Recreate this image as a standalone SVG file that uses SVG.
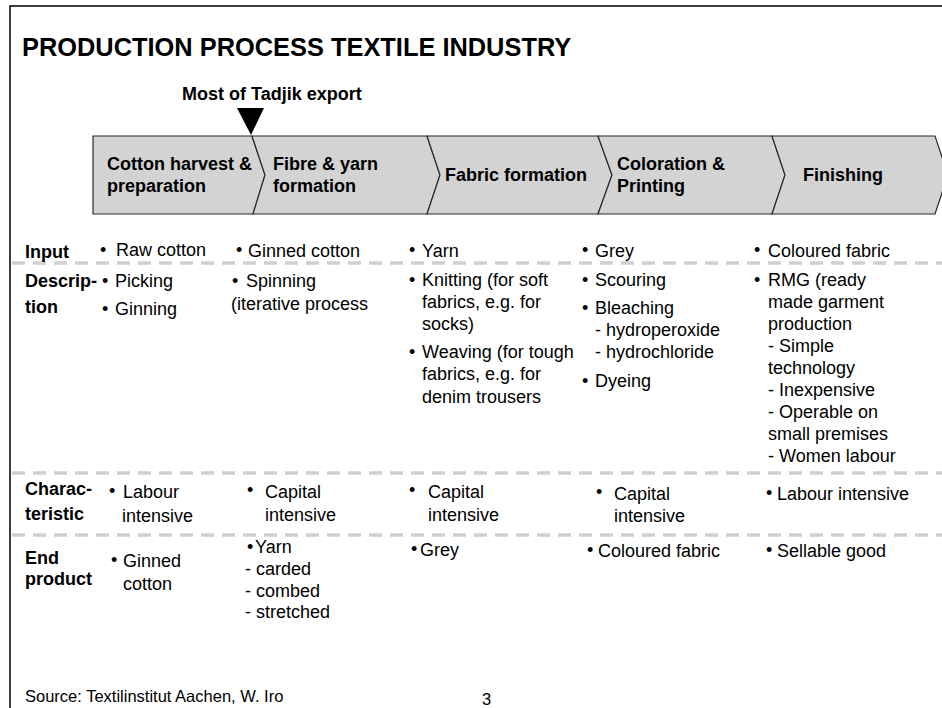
<svg xmlns="http://www.w3.org/2000/svg" width="942" height="708" viewBox="0 0 942 708">
<style>
text{font-family:"Liberation Sans",Arial,Helvetica,sans-serif;fill:#000}
.t{font-size:25.4px;font-weight:bold}
.h{font-size:18px;font-weight:bold}
.b{font-size:18px}
.s{font-size:16.5px}
.stage{fill:#d3d3d3;stroke:#2a2a2a;stroke-width:1.2}
.sep{stroke:#d0d0d0;stroke-width:3.5;stroke-dasharray:13 8;fill:none}
.frame{stroke:#000;stroke-width:1.5;fill:none}
</style>
<rect x="0" y="0" width="942" height="708" fill="#fff"/>
<g id="frame">
<path class="frame" d="M10,708 V6 H942"/>
</g>
<text class="t" x="22" y="56">PRODUCTION PROCESS TEXTILE INDUSTRY</text>
<g id="export-marker">
<text class="h" x="182" y="100">Most of Tadjik export</text>
<polygon points="237,108 264,108 251,135" fill="#000"/>
</g>
<g id="stage1">
<polygon class="stage" points="93,136 252,136 265,175 253,214 93,214"/>
<text class="h" x="107" y="170">Cotton harvest &amp;</text>
<text class="h" x="107" y="192">preparation</text>
</g>
<g id="stage2">
<polygon class="stage" points="252,136 427,136 440,175 427,214 253,214 265,175"/>
<text class="h" x="273" y="170">Fibre &amp; yarn</text>
<text class="h" x="273" y="192">formation</text>
</g>
<g id="stage3">
<polygon class="stage" points="427,136 598,136 612,175 598,214 427,214 440,175"/>
<text class="h" x="445" y="181">Fabric formation</text>
</g>
<g id="stage4">
<polygon class="stage" points="598,136 772,136 785,175 772,214 598,214 612,175"/>
<text class="h" x="617" y="170">Coloration &amp;</text>
<text class="h" x="617" y="192">Printing</text>
</g>
<g id="stage5">
<polygon class="stage" points="772,136 935,136 948,175 935,214 772,214 785,175"/>
<text class="h" x="803" y="181">Finishing</text>
</g>
<g id="connectors">
<line class="sep" x1="12" y1="263" x2="942" y2="263"/>
<line class="sep" x1="12" y1="473" x2="942" y2="473"/>
<line class="sep" x1="12" y1="535" x2="942" y2="535"/>
</g>
<g id="row-labels">
<text class="h" x="25" y="258">Input</text>
<text class="h" x="25" y="287">Descrip-</text>
<text class="h" x="25" y="313">tion</text>
<text class="h" x="25" y="495">Charac-</text>
<text class="h" x="25" y="520">teristic</text>
<text class="h" x="25" y="564">End</text>
<text class="h" x="25" y="585">product</text>
</g>
<g id="col1">
<text class="b" x="100" y="256">•</text><text class="b" x="116" y="256">Raw cotton</text>
<text class="b" x="102" y="287">•</text><text class="b" x="115" y="287">Picking</text>
<text class="b" x="102" y="315">•</text><text class="b" x="115" y="315">Ginning</text>
<text class="b" x="109" y="497">•</text><text class="b" x="123" y="498">Labour</text>
<text class="b" x="122" y="522">intensive</text>
<text class="b" x="111" y="566">•</text><text class="b" x="123" y="567">Ginned</text>
<text class="b" x="123" y="590">cotton</text>
</g>
<g id="col2">
<text class="b" x="236" y="256">•</text><text class="b" x="248" y="257">Ginned cotton</text>
<text class="b" x="232" y="287">•</text><text class="b" x="246" y="287">Spinning</text>
<text class="b" x="231" y="310">(iterative process</text>
<text class="b" x="247" y="496">•</text><text class="b" x="265" y="498">Capital</text>
<text class="b" x="265" y="521">intensive</text>
<text class="b" x="247" y="553">•</text><text class="b" x="255" y="553">Yarn</text>
<text class="b" x="245" y="575">- carded</text>
<text class="b" x="245" y="597">- combed</text>
<text class="b" x="245" y="618">- stretched</text>
</g>
<g id="col3">
<text class="b" x="409" y="256">•</text><text class="b" x="422" y="257">Yarn</text>
<text class="b" x="409" y="286">•</text><text class="b" x="422" y="286">Knitting (for soft</text>
<text class="b" x="422" y="308">fabrics, e.g. for</text>
<text class="b" x="422" y="330">socks)</text>
<text class="b" x="409" y="358">•</text><text class="b" x="422" y="358">Weaving (for tough</text>
<text class="b" x="422" y="380">fabrics, e.g. for</text>
<text class="b" x="422" y="403">denim trousers</text>
<text class="b" x="409" y="496">•</text><text class="b" x="428" y="498">Capital</text>
<text class="b" x="428" y="521">intensive</text>
<text class="b" x="411" y="555">•</text><text class="b" x="420" y="556">Grey</text>
</g>
<g id="col4">
<text class="b" x="582" y="256">•</text><text class="b" x="595" y="257">Grey</text>
<text class="b" x="582" y="286">•</text><text class="b" x="595" y="286">Scouring</text>
<text class="b" x="582" y="314">•</text><text class="b" x="595" y="314">Bleaching</text>
<text class="b" x="595" y="336">- hydroperoxide</text>
<text class="b" x="595" y="358">- hydrochloride</text>
<text class="b" x="582" y="387">•</text><text class="b" x="595" y="387">Dyeing</text>
<text class="b" x="596" y="498">•</text><text class="b" x="614" y="500">Capital</text>
<text class="b" x="614" y="522">intensive</text>
<text class="b" x="587" y="556">•</text><text class="b" x="598" y="557">Coloured fabric</text>
</g>
<g id="col5">
<text class="b" x="754" y="256">•</text><text class="b" x="768" y="257">Coloured fabric</text>
<text class="b" x="754" y="286">•</text><text class="b" x="768" y="286">RMG (ready</text>
<text class="b" x="768" y="308">made garment</text>
<text class="b" x="768" y="330">production</text>
<text class="b" x="768" y="352">- Simple</text>
<text class="b" x="768" y="374">technology</text>
<text class="b" x="768" y="396">- Inexpensive</text>
<text class="b" x="768" y="418">- Operable on</text>
<text class="b" x="768" y="440">small premises</text>
<text class="b" x="768" y="462">- Women labour</text>
<text class="b" x="766" y="499">•</text><text class="b" x="777" y="500">Labour intensive</text>
<text class="b" x="766" y="556">•</text><text class="b" x="777" y="557">Sellable good</text>
</g>
<g id="footer">
<text class="s" x="25" y="702">Source: Textilinstitut Aachen, W. Iro</text>
<text class="s" x="482" y="705">3</text>
</g>
</svg>
